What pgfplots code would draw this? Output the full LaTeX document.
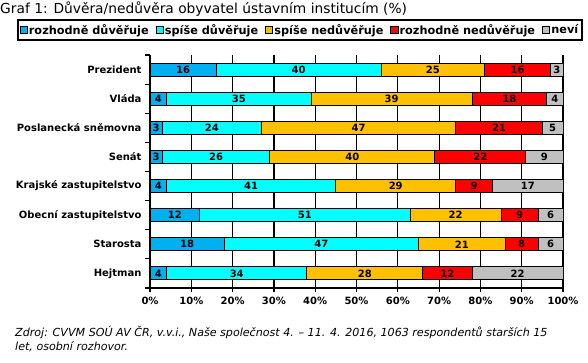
\documentclass[border=0pt]{standalone}
\usepackage{fontspec}
\setmainfont{DejaVu Sans}
\usepackage{pgfplots}
\pgfplotsset{compat=1.18}
\usepackage{pgfplotstable}
\definecolor{c1}{RGB}{0,176,240}
\definecolor{c2}{RGB}{0,255,255}
\definecolor{c3}{RGB}{255,192,0}
\definecolor{c4}{RGB}{255,0,0}
\definecolor{c5}{RGB}{192,192,192}
% y=7 is Prezident (top), y=0 is Hejtman (bottom)
\pgfplotstableread{
y a b c d e
7 16 40 25 16 3
6 4 35 39 18 4
5 3 24 47 21 5
4 3 26 40 22 9
3 4 41 29 9 17
2 12 51 22 9 6
1 18 47 21 8 6
0 4 34 28 12 22
}\data
\begin{document}
\begin{tikzpicture}
\useasboundingbox (0pt,0pt) rectangle (588pt,-363pt);
\node[anchor=west,font=\fontsize{13.8}{16}\selectfont,inner sep=0] at (0pt,-9pt) {Graf 1: Důvěra/nedůvěra obyvatel ústavním institucím (\%)};
\begin{axis}[
 at={(150pt,-288pt)}, anchor=south west,
 scale only axis, width=413pt, height=233pt,
 xbar stacked, bar width=13pt,
 xmin=0, xmax=100, ymin=-0.5, ymax=7.5,
 xtick={0,10,...,100},
 xticklabel={\pgfmathprintnumber{\tick}\%},
 ytick={0,...,7},
 yticklabels={Hejtman,Starosta,Obecní zastupitelstvo,Krajské zastupitelstvo,Senát,Poslanecká sněmovna,Vláda,Prezident},
 minor ytick={-0.5,0.5,...,7.5},
 axis x line*=bottom, axis y line*=left,
 axis line style={line width=1.2pt, black},
 tick align=outside,
 major tick length=4pt, minor tick length=5pt,
 tick style={line width=1.2pt, black},
 every major y tick/.append style={draw=none},
 xmajorgrids, major grid style={black, line width=1.2pt},
 ticklabel style={font=\fontsize{10}{12}\selectfont\bfseries},
 yticklabel style={xshift=-1pt},
 xticklabel style={yshift=-2pt},
 /pgf/number format/assume math mode=true,
 nodes near coords={\pgfmathprintnumber{\rawx}},
 visualization depends on={rawx \as \rawx},
 every node near coord/.append style={anchor=center, text=black, font=\fontsize{10}{12}\selectfont\bfseries},
 legend style={at={(axis description cs:0.3632,1.1073)}, anchor=center, legend columns=-1, draw=black, line width=1.6pt, inner sep=2pt, font=\fontsize{11.3}{13}\selectfont\bfseries, /tikz/every even column/.append style={column sep=5pt}, /tikz/every odd column/.append style={column sep=-1pt}},
 legend image code/.code={\draw[#1, line width=1pt, draw=black] (0pt,-3.6pt) rectangle (7.2pt,3.6pt);},
]
\addplot[fill=c1, draw=black, line width=1pt] table[x=a,y=y]{\data};
\addplot[fill=c2, draw=black, line width=1pt] table[x=b,y=y]{\data};
\addplot[fill=c3, draw=black, line width=1pt] table[x=c,y=y]{\data};
\addplot[fill=c4, draw=black, line width=1pt] table[x=d,y=y]{\data};
\addplot[fill=c5, draw=black, line width=1pt] table[x=e,y=y]{\data};
\legend{rozhodně důvěřuje,spíše důvěřuje,spíše nedůvěřuje,rozhodně nedůvěřuje,neví}
\end{axis}
\node[anchor=west,font=\fontsize{11.1}{13}\selectfont\itshape,inner sep=0] at (15pt,-333pt) {Zdroj: CVVM SOÚ AV ČR, v.v.i., Naše společnost 4. – 11. 4. 2016, 1063 respondentů starších 15};
\node[anchor=west,font=\fontsize{11.1}{13}\selectfont\itshape,inner sep=0] at (15pt,-347pt) {let, osobní rozhovor.};
\end{tikzpicture}
\end{document}
